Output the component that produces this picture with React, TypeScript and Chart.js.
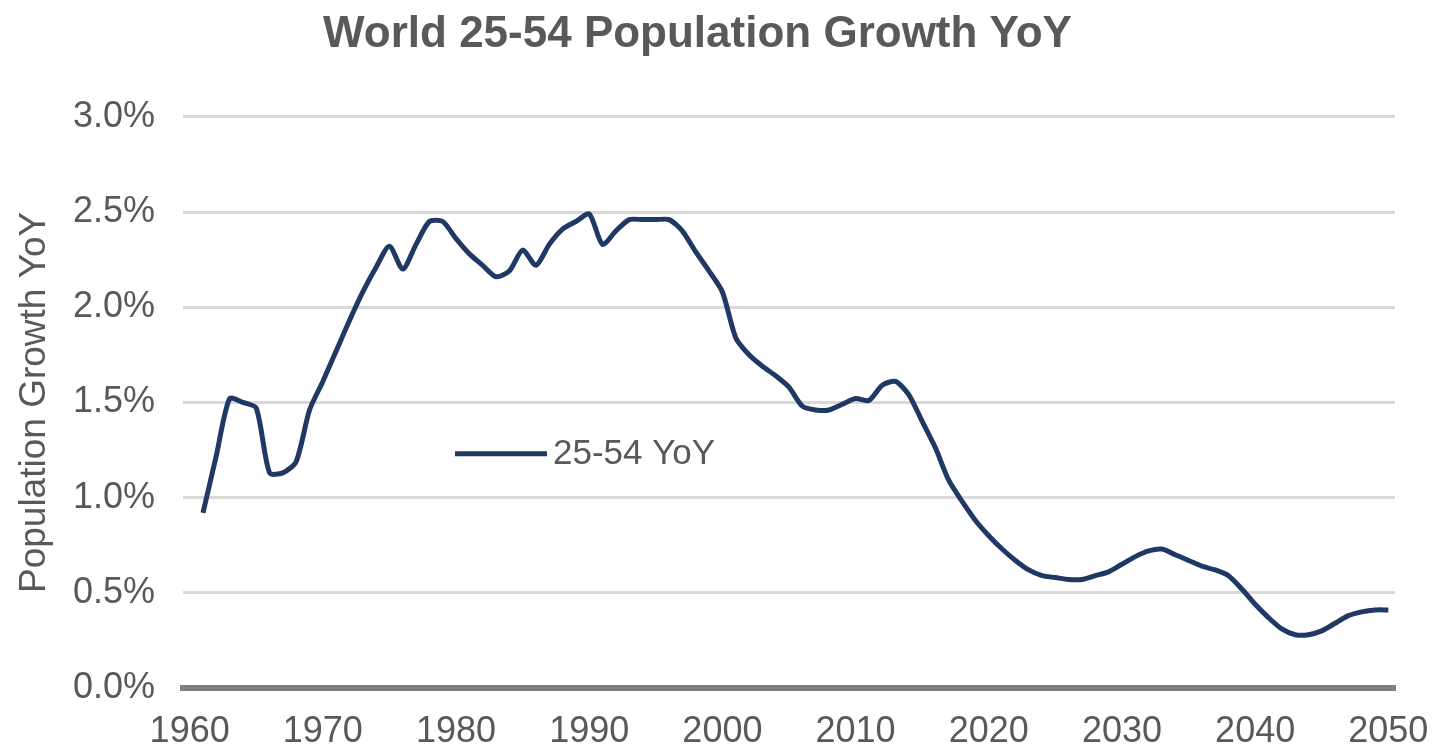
import React, { useEffect, useRef } from "react";
import { Chart, registerables } from "chart.js";

Chart.register(...registerables);

const chartTitle = "World 25-54 Population Growth YoY";
const yAxisTitle = "Population Growth YoY";
const seriesLabel = "25-54 YoY";

const firstCategoryYear = 1960;
const lastCategoryYear = 2050;
const firstDataYear = 1961;

// YoY growth (%) for 1961..2050
const growthPct: number[] = [
  0.92, 1.22, 1.52, 1.50, 1.47, 1.13, 1.13, 1.19, 1.46, 1.61,
  1.77, 1.93, 2.08, 2.21, 2.32, 2.20, 2.33, 2.45, 2.45, 2.36,
  2.28, 2.22, 2.16, 2.19, 2.30, 2.22, 2.33, 2.41, 2.45, 2.49,
  2.33, 2.40, 2.46, 2.46, 2.46, 2.46, 2.40, 2.29, 2.19, 2.08,
  1.84, 1.75, 1.69, 1.64, 1.58, 1.48, 1.46, 1.46, 1.49, 1.52,
  1.51, 1.59, 1.61, 1.54, 1.40, 1.26, 1.09, 0.98, 0.88, 0.80,
  0.73, 0.67, 0.62, 0.59, 0.58, 0.57, 0.57, 0.59, 0.61, 0.65,
  0.69, 0.72, 0.73, 0.70, 0.67, 0.64, 0.62, 0.59, 0.52, 0.44,
  0.37, 0.31, 0.28, 0.28, 0.30, 0.34, 0.38, 0.40, 0.41, 0.41,
];

const yMin = 0;
const yMax = 3;
const yStep = 0.5;
const xLabelEvery = 10;

const LINE_COLOR = "#1f3864";
const TEXT_COLOR = "#595959";
const FONT = '"Liberation Sans", Arial, sans-serif';

const insideLegend = {
  id: "insideLegend",
  afterDatasetsDraw(chart: any) {
    const { ctx, chartArea } = chart;
    const ds = chart.data.datasets[0];
    const x0 = chartArea.left + 272;
    const y0 = chartArea.top + 337;
    ctx.save();
    ctx.strokeStyle = ds.borderColor;
    ctx.lineWidth = 5;
    ctx.lineCap = "butt";
    ctx.beginPath();
    ctx.moveTo(x0, y0);
    ctx.lineTo(x0 + 92, y0);
    ctx.stroke();
    ctx.font = `35px ${FONT}`;
    ctx.fillStyle = TEXT_COLOR;
    ctx.textBaseline = "middle";
    ctx.textAlign = "left";
    ctx.fillText(ds.label, x0 + 98, y0 + 1);
    ctx.restore();
  },
};

export default function App() {
  const ref = useRef<HTMLCanvasElement | null>(null);

  useEffect(() => {
    if (!ref.current) return;
    const labels: string[] = [];
    for (let y = firstCategoryYear; y <= lastCategoryYear; y++) labels.push(String(y));
    const data: (number | null)[] = labels.map((l) => {
      const idx = Number(l) - firstDataYear;
      return idx >= 0 && idx < growthPct.length ? growthPct[idx] : null;
    });

    const chart = new Chart(ref.current, {
      type: "line",
      data: {
        labels,
        datasets: [
          {
            label: seriesLabel,
            data,
            borderColor: LINE_COLOR,
            backgroundColor: LINE_COLOR,
            borderWidth: 5,
            pointRadius: 0,
            tension: 0.25,
            fill: false,
          },
        ],
      },
      options: {
        responsive: false,
        animation: false,
        layout: { padding: { left: 0, right: 40, top: 0, bottom: 0 } },
        plugins: {
          legend: { display: false },
          tooltip: { enabled: false },
          title: {
            display: true,
            text: chartTitle,
            color: TEXT_COLOR,
            font: { family: FONT, size: 44, weight: "bold" },
            padding: { top: 8, bottom: 56 },
          },
        },
        scales: {
          x: {
            type: "category",
            offset: true,
            grid: { display: false, drawTicks: false },
            border: { display: true, color: "#7f7f7f", width: 6 },
            ticks: {
              autoSkip: false,
              maxRotation: 0,
              minRotation: 0,
              padding: 22,
              color: TEXT_COLOR,
              font: { family: FONT, size: 36 },
              callback: function (this: any, value: any) {
                const lbl = this.getLabelForValue(value);
                return Number(lbl) % xLabelEvery === 0 ? lbl : "";
              },
            },
            afterFit(scale: any) {
              scale.height = 62;
              scale.paddingLeft = 0;
              scale.paddingRight = 0;
            },
          },
          y: {
            min: yMin,
            max: yMax,
            grid: { color: "#d9d9d9", lineWidth: 3, drawTicks: false },
            border: { display: false },
            ticks: {
              stepSize: yStep,
              padding: 28,
              color: TEXT_COLOR,
              font: { family: FONT, size: 36 },
              callback: (v: any) => `${Number(v).toFixed(1)}%`,
            },
            title: {
              display: true,
              text: yAxisTitle,
              color: TEXT_COLOR,
              font: { family: FONT, size: 37 },
              padding: { top: 13, bottom: 0 },
            },
            afterFit(scale: any) {
              scale.width = 183;
            },
          },
        },
      },
      plugins: [insideLegend],
    });
    return () => chart.destroy();
  }, []);

  return (
    <div style={{ position: "fixed", left: 0, top: 0, width: 1435, height: 750, background: "#fff" }}>
      <canvas ref={ref} width={1435} height={750} />
    </div>
  );
}
